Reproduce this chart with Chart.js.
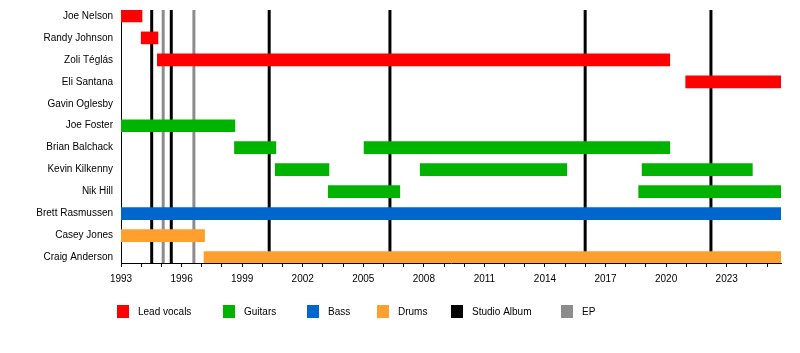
<!DOCTYPE html>
<html>
<head>
<meta charset="utf-8">
<script src="https://cdn.jsdelivr.net/npm/chart.js@4"></script>
<style>
  html, body { margin: 0; padding: 0; background: #fff; }
  #wrap { width: 800px; height: 353px; }
</style>
</head>
<body>
<div id="wrap"><canvas id="timeline"></canvas></div>
<script>
// band members, top to bottom
const members = ['Joe Nelson', 'Randy Johnson', 'Zoli Téglás', 'Eli Santana', 'Gavin Oglesby', 'Joe Foster',
    'Brian Balchack', 'Kevin Kilkenny', 'Nik Hill', 'Brett Rasmussen', 'Casey Jones', 'Craig Anderson'];

// periods per role: [member, start, end]
const vocals = [['Joe Nelson', 1993, 1994.04], ['Randy Johnson', 1994.0, 1994.83],
    ['Zoli Téglás', 1994.8, 2020.18], ['Eli Santana', 2020.97, 2025.69]];
const guitars = [['Joe Foster', 1993, 1998.64], ['Brian Balchack', 1998.62, 2000.67], ['Brian Balchack', 2005.04, 2020.18],
    ['Kevin Kilkenny', 2000.64, 2003.3], ['Kevin Kilkenny', 2007.82, 2015.08], ['Kevin Kilkenny', 2018.81, 2024.27],
    ['Nik Hill', 2003.27, 2006.81], ['Nik Hill', 2018.64, 2025.69]];
const bass = [['Brett Rasmussen', 1993, 2025.69]];
const drums = [['Casey Jones', 1993, 1997.14], ['Craig Anderson', 1997.11, 2025.69]];

// releases
const studioAlbums = [1994.52, 1995.49, 2000.34, 2006.32, 2015.99, 2022.22];
const eps = [1995.09, 1996.61];

const startYear = 1993;
const endYear = 2025.69;
const labelEvery = 3;

const roleNames = ['Lead vocals', 'Guitars', 'Bass', 'Drums', 'Studio Album', 'EP'];
const roleColors = ['#ff0000', '#00b300', '#0066cc', '#ffa02e', '#000000', '#8c8c8c'];

const FONT = '"Liberation Sans", Arial, sans-serif';

function toBars(periods) {
    return periods.map(p => ({ x: [p[1], p[2]], y: members.indexOf(p[0]) }));
}

// vertical release lines, behind the bars
const releaseLines = {
    id: 'releaseLines',
    beforeDatasetsDraw(chart) {
        const { ctx, chartArea, scales } = chart;
        ctx.save();
        ctx.lineWidth = 3;
        const draw = (years, color) => {
            ctx.strokeStyle = color;
            years.forEach(y => {
                const px = scales.x.getPixelForValue(y);
                ctx.beginPath();
                ctx.moveTo(px, chartArea.top);
                ctx.lineTo(px, chartArea.bottom);
                ctx.stroke();
            });
        };
        draw(eps, roleColors[5]);
        draw(studioAlbums, roleColors[4]);
        ctx.restore();
    }
};

// legend row under the axis
const legendRow = {
    id: 'legendRow',
    afterDraw(chart) {
        const ctx = chart.ctx;
        const xs = [117, 223, 307, 377, 451, 561];
        ctx.save();
        ctx.font = '10px ' + FONT;
        ctx.textBaseline = 'middle';
        roleNames.forEach((name, i) => {
            ctx.fillStyle = roleColors[i];
            ctx.fillRect(xs[i], 305, 12, 13);
            ctx.fillStyle = '#000';
            ctx.fillText(name, xs[i] + 21, 312);
        });
        ctx.restore();
    }
};

const yearTicks = [];
for (let y = startYear; y <= Math.floor(endYear); y++) yearTicks.push(y);

new Chart(document.getElementById('timeline'), {
    type: 'bar',
    data: {
        datasets: [
            { label: roleNames[0], data: toBars(vocals), backgroundColor: roleColors[0] },
            { label: roleNames[1], data: toBars(guitars), backgroundColor: roleColors[1] },
            { label: roleNames[2], data: toBars(bass), backgroundColor: roleColors[2] },
            { label: roleNames[3], data: toBars(drums), backgroundColor: roleColors[3] }
        ]
    },
    options: {
        indexAxis: 'y',
        responsive: true,
        maintainAspectRatio: false,
        animation: false,
        grouped: false,
        barThickness: 12,
        borderSkipped: false,
        layout: { padding: { top: 10, right: 19, left: 0, bottom: 0 } },
        plugins: { legend: { display: false }, tooltip: { enabled: false } },
        scales: {
            x: {
                type: 'linear',
                min: startYear,
                max: endYear,
                afterBuildTicks: axis => { axis.ticks = yearTicks.map(v => ({ value: v })); },
                afterFit: axis => { axis.height = 90; axis.paddingLeft = 0; axis.paddingRight = 0; },
                grid: { drawOnChartArea: false, tickLength: 4, color: '#000' },
                border: { color: '#000', width: 1 },
                ticks: {
                    color: '#000',
                    padding: 6,
                    maxRotation: 0,
                    autoSkip: false,
                    font: { family: FONT, size: 10 },
                    callback: v => ((v - startYear) % labelEvery === 0 ? String(v) : '')
                }
            },
            y: {
                type: 'linear',
                reverse: true,
                offset: false,
                min: -0.27,
                max: 11.25,
                afterBuildTicks: axis => { axis.ticks = members.map((m, i) => ({ value: i })); },
                afterFit: axis => { axis.width = 121; axis.paddingTop = 0; axis.paddingBottom = 0; },
                grid: { display: false, drawTicks: false, tickLength: 0 },
                border: { color: '#000', width: 1 },
                ticks: {
                    color: '#000',
                    padding: 8,
                    autoSkip: false,
                    font: { family: FONT, size: 10 },
                    callback: v => members[v]
                }
            }
        }
    },
    plugins: [releaseLines, legendRow]
});
</script>
</body>
</html>
